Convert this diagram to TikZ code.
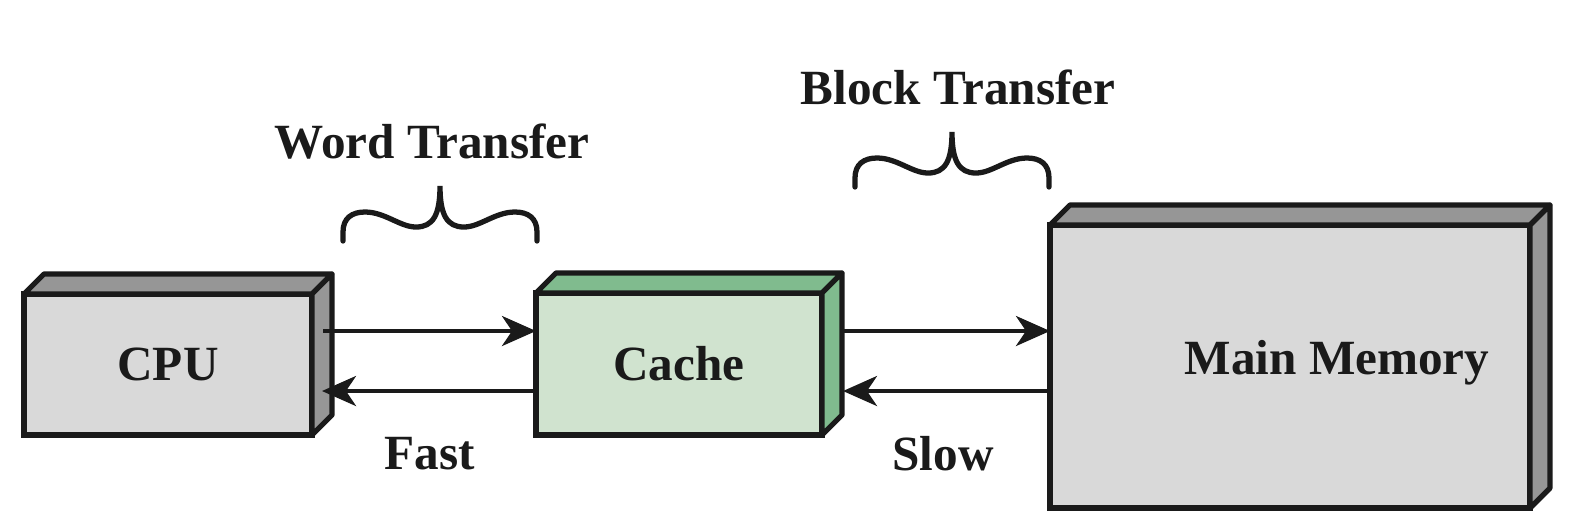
\documentclass[tikz,border=0pt]{standalone}
\usepackage{fontspec}
\setmainfont{Liberation Serif}
\usepackage{xcolor}
\usetikzlibrary{calc}
\usetikzlibrary{arrows, arrows.meta}

\definecolor{inkcolor}{HTML}{1A1A1A}
\definecolor{frontgray}{HTML}{D9D9D9}
\definecolor{sidegray}{HTML}{969696}
\definecolor{frontgreen}{HTML}{D0E3CF}
\definecolor{sidegreen}{HTML}{80BB8E}

\tikzset{%
block/.style={rectangle, draw=inkcolor, line width=1.5pt, outer sep=0, inner sep=0},
block line/.style={draw=inkcolor, line width=1.5pt, line join=round},
flow line/.style={inkcolor, line width=1.1pt, -{Stealth[length=3.4mm, width=3mm, inset=1mm]}},
brace line/.style={inkcolor, line width=1.5pt, line cap=round},
block text/.style={inkcolor, font=\fontsize{14}{16}\selectfont\bfseries}%
}

\begin{document}
\begin{tikzpicture}[x=0.1mm, y=-0.1mm]

\useasboundingbox (0, 0) rectangle (1588, 518) ;

% arguments: name, x, y, width, height, front colour, side colour
\newcommand{\setblock}[7]{%
\path (#2, #3) node [block, minimum width=#4*0.1mm, minimum height=#5*0.1mm, fill=#6] (#1) {} ;
\draw [block line, fill=#7] (#1.north west) -- ++(20, -20) -- ($ (#1.north east) + (20, -20) $) -- (#1.north east) -- cycle ;
\draw [block line, fill=#7] (#1.north east) -- ++(20, -20) -- ($ (#1.south east) + (20, -20) $) -- (#1.south east) -- cycle ;
}

% arguments: name, x of tip, y of ends
\newcommand{\drawbrace}[3]{%
\path (#2, #3) node [shape=coordinate] (#1) {} ;
\draw [brace line, shift={(#1)}] (-97, 0) -- (-97, -9)
	.. controls (-97, -23) and (-88, -29) .. (-75, -29)
	.. controls (-55, -29) and (-40, -14) .. (-24, -14)
	.. controls (-7, -14) and (0, -26) .. (0, -55)
	.. controls (0, -26) and (7, -14) .. (24, -14)
	.. controls (40, -14) and (55, -29) .. (75, -29)
	.. controls (88, -29) and (97, -23) .. (97, -9) -- (97, 0) ;
}

% draw blocks

\setblock{cpu}{168}{364.5}{288}{141}{frontgray}{sidegray}
\setblock{cache}{679}{364}{286}{142}{frontgreen}{sidegreen}
\setblock{mem}{1290}{366.5}{480}{283}{frontgray}{sidegray}

\path (cpu) node [block text] (cputext) {CPU} ;
\path (cache) node [block text] (cachetext) {Cache} ;
\path ($ (mem) + (47, -4) $) node [block text] (memtext) {Main Memory} ;

% draw transfers

\path (0, 331) node [shape=coordinate] (upper) {} ;
\path (0, 391) node [shape=coordinate] (lower) {} ;

\draw [flow line] ($ (cpu.east |- upper) + (11, 0) $) -- (cache.west |- upper) ;
\draw [flow line] (cache.west |- lower) -- ($ (cpu.east |- lower) + (10, 0) $) ;
\draw [flow line] ($ (cache.east |- upper) + (20, 0) $) -- (mem.west |- upper) ;
\draw [flow line] (mem.west |- lower) -- ($ (cache.east |- lower) + (21, 0) $) ;

\path (430, 454) node [block text] (fast) {Fast} ;
\path (943, 454) node [block text] (slow) {Slow} ;

% draw braces

\drawbrace{wordbrace}{440}{241}
\drawbrace{blockbrace}{952}{187}

\path (432, 142) node [block text] (wordtext) {Word Transfer} ;
\path (958, 87) node [block text] (blocktext) {Block Transfer} ;

\end{tikzpicture}
\end{document}
